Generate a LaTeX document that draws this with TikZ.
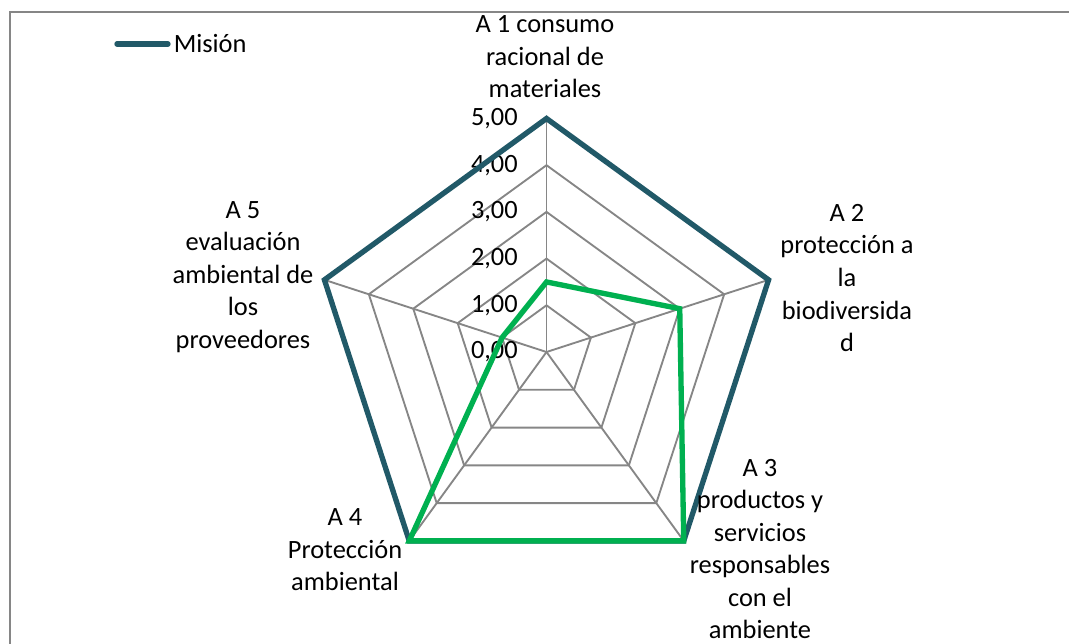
\documentclass[tikz,border=0pt]{standalone}
\usepackage{fontspec}
\setmainfont{Carlito}
\usepackage{tikz}
\usetikzlibrary{positioning,calc}
\definecolor{misionteal}{HTML}{215968}
\definecolor{seriegreen}{HTML}{00B050}
\definecolor{gridgray}{HTML}{868686}
\tikzstyle{axislabel} = [align=center, inner sep=0pt, font=\fontsize{19.8}{24.4}\selectfont]
\tikzstyle{ticklabel} = [anchor=east, inner sep=0pt, font=\fontsize{19.8}{24.4}\selectfont]
\tikzstyle{gridline} = [draw=gridgray, line width=1.4pt]
\tikzstyle{mision} = [draw=misionteal, line width=4pt]
\tikzstyle{serie} = [draw=seriegreen, line width=4pt]

\begin{document}
\begin{tikzpicture}[x=0.75pt, y=0.75pt]
			\useasboundingbox (-546.5,-291) rectangle (522.5,352);
			
			\draw[draw=gridgray, line width=1pt] (-536.5,-295) -- (-536.5,340) -- (530,340);
			
			\coordinate (c) at (0,0);
			\coordinate (a1) at (90:233.5);
			\coordinate (a2) at (18:233.5);
			\coordinate (a3) at (-54:233.5);
			\coordinate (a4) at (-126:233.5);
			\coordinate (a5) at (162:233.5);
			
			% rejilla
			\draw[gridline] (90:46.7) -- (18:46.7) -- (-54:46.7) -- (-126:46.7) -- (162:46.7) -- cycle;
			\draw[gridline] (90:93.4) -- (18:93.4) -- (-54:93.4) -- (-126:93.4) -- (162:93.4) -- cycle;
			\draw[gridline] (90:140.1) -- (18:140.1) -- (-54:140.1) -- (-126:140.1) -- (162:140.1) -- cycle;
			\draw[gridline] (90:186.8) -- (18:186.8) -- (-54:186.8) -- (-126:186.8) -- (162:186.8) -- cycle;
			\draw[gridline] (c) -- (a1);
			\draw[gridline] (c) -- (a2);
			\draw[gridline] (c) -- (a3);
			\draw[gridline] (c) -- (a4);
			\draw[gridline] (c) -- (a5);
			
			\node[ticklabel] (t0) at (-28.5,0) {0,00};
			\node[ticklabel] (t1) at (-28.5,46.7) {1,00};
			\node[ticklabel] (t2) at (-28.5,93.4) {2,00};
			\node[ticklabel] (t3) at (-28.5,140.1) {3,00};
			\node[ticklabel] (t4) at (-28.5,186.8) {4,00};
			\node[ticklabel] (t5) at (-28.5,233.5) {5,00};
			
			\draw[mision] (a1) -- (a2) -- (a3) -- (a4) -- (a5) -- cycle;
			\draw[serie] (90:70.05) -- (18:140.1) -- (a3) -- (a4) -- (162:46.7) -- cycle;
			
			\node[axislabel] (l1) at (-1.5,295) {A 1 consumo\\racional de\\materiales};
			\node[axislabel] (l2) at (300.5,74) {A 2\\protección a\\la\\biodiversida\\d};
			\node[axislabel] (l3) at (213.5,-197) {A 3\\productos y\\servicios\\responsables\\con el\\ambiente};
			\node[axislabel] (l4) at (-201.5,-198) {A 4\\Protección\\ambiental};
			\node[axislabel] (l5) at (-303.5,75) {A 5\\evaluación\\ambiental de\\los\\proveedores};
			
			% leyenda
			\coordinate (leg) at (-429.5,308);
			\coordinate (legend) at (-378.5,308);
			\node[ticklabel, anchor=west] (legtext) at (-373,308) {Misión};
			\draw[mision, line cap=round] (leg) -- (legend);
			
		\end{tikzpicture}
\end{document}
